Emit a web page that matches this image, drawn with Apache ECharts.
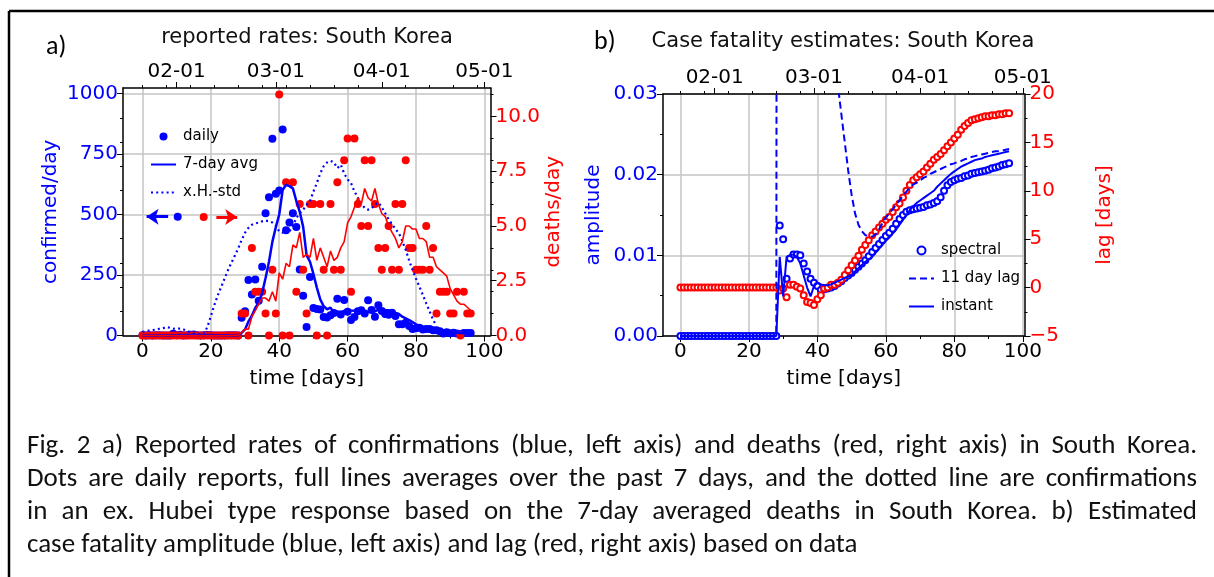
<!DOCTYPE html>
<html><head><meta charset="utf-8">
<script src="https://cdn.jsdelivr.net/npm/echarts@6/dist/echarts.min.js"></script>
<style>html,body{margin:0;padding:0;background:#fff}#c{width:1214px;height:577px}</style>
</head><body><div id="c"></div>
<script>
// ---------------- data (day index = array index, day 0 = 2020-01-22) ----------------
const confirmedDaily = [1,0,1,0,1,1,0,0,0,7, 1,3,0,1,3,4,1,0,1,2, 1,0,0,0,0,1,1,1,0,73,
  100,229,169,231,144,284,505,571,813,586, 599,851,435,467,505,448,273,164,35,242,
  114,110,107,76,74,84,93,152,87,147, 98,64,76,100,104,91,146,105,78,125,
  101,89,86,94,81,47,47,53,39,27, 30,32,25,27,27,22,22,18,8,13, 9,11,8,6,10,10,10];
const confirmed7day = [0.14,0.14,0.29,0.29,0.43,0.57,0.57,0.43,0.43,1.29, 1.43,1.71,1.57,1.71,2.14,2.71,1.86,1.71,1.43,1.71,
  1.71,1.29,0.71,0.57,0.57,0.57,0.43,0.43,0.43,10.9, 25.1,57.9,81.9,114.7,135.1,175.7,237.4,304.7,388.1,447.7,
  500.3,601.3,622.9,617.4,608.0,555.9,511.1,449.0,332.4,304.9, 254.4,198.0,149.3,121.1,108.3,115.3,94.0,99.4,96.1,101.9,
  105.0,103.6,102.4,103.4,96.6,97.1,97.0,98.0,100.0,107.0, 107.1,105.0,104.3,96.9,93.4,89.0,77.9,71.0,63.9,55.4,
  46.3,39.3,36.1,33.3,29.6,27.1,26.4,24.7,21.3,19.6, 17.0,14.7,12.7,10.4,9.3,9.6,9.1];
const xhStd = [15,18,20,22,25,28,30,35,32,28, 30,28,25,20,12,8,5,5,10,35,
  80,125,165,200,235,270,300,330,360,395, 425,445,458,463,467,472,475,472,467,455,
  430,425,440,430,455,485,506,520,540,555, 595,630,670,700,715,722,715,692,706,670,
  645,630,595,570,545,527,520,525,540,550, 530,505,480,460,440,423,390,354,310,271,
  235,202,168,133,100,65,40];
const deathsDaily = [0,0,0,0,0,0,0,0,0,0, 0,0,0,0,0,0,0,0,0,0, 0,0,0,0,0,0,0,0,0,
  1,1,0,4,2,2,2,1,0,3, 1,11,0,7,0,7,2,6,3,1, 6,6,0,6,3,0,6,3,7,3, 8,9,2,9,6,5,8,5,8,6,
  4,3,4,5,3,6,3,6,8,4, 4,3,3,3,5,3,4,1,2,2, 2,1,1,2,0,2,1,1];
const deaths7day = [0,0,0,0,0,0,0,0,0,0, 0,0,0,0,0,0,0,0,0,0, 0,0,0,0,0,0,0,0,0,
  0.14,0.29,0.29,0.86,1.14,1.43,1.71,1.71,1.57,2.0, 1.57,2.86,2.57,3.29,3.14,4.14,4.0,4.71,3.57,3.71,
  3.57,4.43,3.43,4.0,3.57,3.14,3.86,3.43,3.57,4.0, 4.29,5.14,5.43,5.86,6.29,6.0,6.71,6.29,6.14,6.71,
  6.0,5.57,5.43,5.0,4.71,4.43,4.0,4.29,5.0,5.0, 4.86,4.86,4.43,4.43,4.29,3.57,3.57,3.14,3.0,2.86,
  2.71,2.14,1.86,1.57,1.43,1.43,1.29,1.14];
const spectralAmp = [0,0,0,0,0,0,0,0,0,0, 0,0,0,0,0,0,0,0,0,0, 0,0,0,0,0,0,0,0,0,
  0.0137,0.0120,0.0071,0.0096,0.0101,0.0101,0.0100,0.0090,0.0080,0.0071,
  0.0066,0.0062,0.0057,0.0058,0.0059,0.0060,0.0062,0.0065,0.0068,0.0072,
  0.0075,0.0078,0.0082,0.0086,0.0090,0.0094,0.0099,0.0104,0.0109,0.0114,
  0.0119,0.0124,0.0128,0.0133,0.0139,0.0145,0.0150,0.0154,0.0156,0.0157,
  0.0158,0.0159,0.0160,0.0162,0.0163,0.0165,0.0167,0.0172,0.0180,0.0187,
  0.0191,0.0193,0.0195,0.0196,0.0198,0.0199,0.0201,0.0202,0.0203,0.0204,
  0.0205,0.0206,0.0208,0.0209,0.0210,0.0212,0.0213,0.0214];
const instantAmp = [0,0,0,0,0,0,0,0,0,0, 0,0,0,0,0,0,0,0,0,0, 0,0,0,0,0,0,0,0,0,
  0.0098,0.0049,0.0098,0.0100,0.0101,0.0098,0.0090,0.0075,0.0060,0.0049,
  0.0062,0.0066,0.0064,0.0063,0.0063,0.0064,0.0066,0.0068,0.0070,0.0072,
  0.0074,0.0076,0.0080,0.0084,0.0088,0.0092,0.0095,0.0098,0.0103,0.0108,
  0.0113,0.0118,0.0122,0.0127,0.0132,0.0138,0.0144,0.0150,0.0156,0.0161,
  0.0165,0.0168,0.0171,0.0174,0.0177,0.0180,0.0185,0.0189,0.0193,0.0197,
  0.0201,0.0204,0.0207,0.0210,0.0212,0.0214,0.0216,0.0218,0.0219,0.0220,
  0.0222,0.0223,0.0224,0.0225,0.0226,0.0227,0.0228,0.0229];
const lag11Amp = [0,0,0,0,0,0,0,0,0,0, 0,0,0,0,0,0,0,0,0,0, 0,0,0,0,0,0,0,0,0,
  0.5,0.3,0.2,0.15,0.12,0.1,0.08,0.07,0.06,0.055,
  0.05,0.045,0.042,0.04,0.037,0.035,0.033,0.031,0.0275,0.024,
  0.0205,0.0175,0.0152,0.0138,0.0130,0.0125,0.0124,0.0123,0.0126,0.0132,
  0.0140,0.0147,0.0152,0.0157,0.0163,0.0168,0.0174,0.0179,0.0184,0.0188,
  0.0190,0.0193,0.0196,0.0198,0.0201,0.0203,0.0205,0.0207,0.0209,0.0211,
  0.0213,0.0214,0.0216,0.0217,0.0219,0.0220,0.0222,0.0223,0.0224,0.0225,
  0.0226,0.0227,0.0228,0.0229,0.0229,0.0230,0.0231,0.0232];
const lagDays = [0,0,0,0,0,0,0,0,0,0, 0,0,0,0,0,0,0,0,0,0, 0,0,0,0,0,0,0,0,0,
  -0.3,-0.1,-1.0,0.3,0.3,0.1,-0.1,-0.8,-1.5,-1.6,
  -1.8,-1.2,-0.8,-0.1,0.0,0.3,0.3,0.5,0.8,1.3,
  1.8,2.3,2.8,3.3,3.9,4.4,4.9,5.4,5.8,6.2,
  6.6,7.0,7.3,7.8,8.3,8.7,9.3,10.0,10.6,11.1,
  11.4,11.7,12.0,12.4,12.8,13.2,13.5,13.8,14.2,14.6,
  15.0,15.4,15.8,16.3,16.7,17.0,17.3,17.4,17.5,17.6,
  17.7,17.7,17.8,17.8,17.9,17.9,18.0,18.0];

// axis ticks and labels
const dayTicks = [0, 20, 40, 60, 80, 100];
const dayMinorTicks = [10, 30, 50, 70, 90];
const dateTickDays = [10, 39, 70, 100];
const dateTickLabels = ['02-01', '03-01', '04-01', '05-01'];
const weekTickDays = [0, 7, 14, 21, 28, 35, 42, 49, 56, 63, 77, 84, 91, 98];
const confTicks = [0, 250, 500, 750, 1000];
const confMinorTicks = [100, 200, 300, 400, 600, 700, 800, 900];
const deathTicks = [0, 2.5, 5, 7.5, 10];
const deathMinorTicks = [1, 2, 3, 4, 6, 7, 8, 9, 11];
const ampTicks = [0, 0.01, 0.02, 0.03];
const ampMinorTicks = [0.005, 0.015, 0.025];
const lagTicks = [-5, 0, 5, 10, 15, 20];
const lagMinorTicks = [-2.5, 2.5, 7.5, 12.5, 17.5];

// annotation markers (left panel): dot + arrow towards the matching axis
const blueMarker = [10.3, 491];
const blueArrow = [[7.5, 491], [1.2, 491]];
const redMarker = [17.9, 5.41];
const redArrow = [[21.6, 5.41], [27.7, 5.41]];

const captionLines = [
  'Fig. 2 a) Reported rates of confirmations (blue, left axis) and deaths (red, right axis) in South Korea.',
  'Dots are daily reports, full lines averages over the past 7 days, and the dotted line are confirmations',
  'in an ex. Hubei type response based on the 7-day averaged deaths in South Korea. b) Estimated',
  'case fatality amplitude (blue, left axis) and lag (red, right axis) based on data'
];

// ---------------- styling / layout ----------------
const BLUE = '#0000ff', RED = '#ff0000', GRIDC = '#c4c4c4', INK = '#000';
const FONT = 'DejaVu Sans';
const XA = [-5.7, 101.8], XB = [-5.1, 100.5];
const CONF = [0, 1023], DEATH = [0, 11.3], AMP = [0, 0.03], LAG = [-5, 20];
const pairs = arr => arr.map((v, i) => [i, v]);
const spine = {show: true, onZero: false, lineStyle: {color: INK, width: 1.5}};
const lbl = (color, extra) => Object.assign({color: color, fontFamily: FONT, fontSize: 20}, extra || {});
const near = (arr, v) => arr.findIndex(a => Math.abs(a - v) < 1e-9);

function mainX(grid, range, pos, ticks, labelFmt, withGrid, name) {
  const ax = {gridIndex: grid, type: 'value', position: pos, min: range[0], max: range[1],
    axisLine: spine,
    axisTick: {show: true, customValues: ticks, length: 6, lineStyle: {color: INK, width: 1}},
    axisLabel: lbl(INK, {show: true, customValues: ticks, margin: 6, formatter: labelFmt}),
    splitLine: {show: withGrid, lineStyle: {color: GRIDC, width: 1.5}}};
  if (name) { ax.name = name; ax.nameLocation = 'middle'; ax.nameGap = 33;
    ax.nameTextStyle = {color: INK, fontFamily: FONT, fontSize: 20}; }
  return ax;
}
function minorX(grid, range, pos, ticks) {
  return {gridIndex: grid, type: 'value', position: pos, min: range[0], max: range[1],
    axisLine: {show: false, onZero: false}, axisLabel: {show: false}, splitLine: {show: false},
    axisTick: {show: true, customValues: ticks, length: 3, lineStyle: {color: INK, width: 1}}};
}
function mainY(grid, range, pos, ticks, color, fmt, withGrid, name, gap) {
  return {gridIndex: grid, type: 'value', position: pos, min: range[0], max: range[1],
    axisLine: spine,
    axisTick: {show: true, customValues: ticks, length: 6, lineStyle: {color: INK, width: 1}},
    axisLabel: lbl(color, {show: true, customValues: ticks, margin: 5, formatter: fmt}),
    splitLine: {show: withGrid, lineStyle: {color: GRIDC, width: 1.5}},
    name: name, nameLocation: 'middle', nameRotate: 90, nameGap: gap,
    nameTextStyle: {color: color, fontFamily: FONT, fontSize: 20}};
}
function minorY(grid, range, pos, ticks) {
  return {gridIndex: grid, type: 'value', position: pos, min: range[0], max: range[1],
    axisLine: {show: false, onZero: false}, axisLabel: {show: false}, splitLine: {show: false},
    axisTick: {show: true, customValues: ticks, length: 3, lineStyle: {color: INK, width: 1}}};
}
const dayFmt = v => String(Math.round(v));
const dateFmt = v => { const k = near(dateTickDays, v); return k >= 0 ? dateTickLabels[k] : ''; };
const lagFmt = v => v < 0 ? '\u2212' + Math.abs(v) : String(v);

// caption layout: justified lines (last line left-aligned)
const CAPFONT = 'Carlito, Lato, sans-serif';
const mctx = document.createElement('canvas').getContext('2d');
const measure = (t, s) => { mctx.font = s + 'px ' + CAPFONT; return mctx.measureText(t).width; };
const capSize = 0.94 * 22 * 1158 / measure(captionLines[1], 22);
const capX = 27, capRight = 1197, capY0 = 446, capDY = 33;
const capFont = capSize + 'px ' + CAPFONT;
const captionGraphics = [];
captionLines.forEach((line, li) => {
  const y = capY0 + li * capDY;
  if (li === captionLines.length - 1) {
    captionGraphics.push({type: 'text', x: capX, y: y,
      style: {text: line, font: capFont, fill: '#111', align: 'left', verticalAlign: 'middle'}});
    return;
  }
  const words = line.split(' ');
  const ws = words.map(w => measure(w, capSize));
  const total = ws.reduce((a, b) => a + b, 0);
  const gap = (capRight - capX - total) / (words.length - 1);
  let x = capX;
  words.forEach((w, wi) => {
    captionGraphics.push({type: 'text', x: x, y: y,
      style: {text: w, font: capFont, fill: '#111', align: 'left', verticalAlign: 'middle'}});
    x += ws[wi] + gap;
  });
});

const hideSym = name => ({name: name, itemStyle: {opacity: 0}});
const legendText = {fontFamily: FONT, fontSize: 15, color: INK, padding: [0, 0, 0, 2]};

const option = {
  animation: false,
  backgroundColor: '#fff',
  grid: [
    {left: 123, top: 88, width: 367.5, height: 247.5, containLabel: false},
    {left: 663, top: 94, width: 361.5, height: 242, containLabel: false}
  ],
  xAxis: [
    mainX(0, XA, 'bottom', dayTicks, dayFmt, true, 'time [days]'),
    minorX(0, XA, 'bottom', dayMinorTicks),
    mainX(0, XA, 'top', dateTickDays, dateFmt, false),
    minorX(0, XA, 'top', weekTickDays),
    mainX(1, XB, 'bottom', dayTicks, dayFmt, true, 'time [days]'),
    minorX(1, XB, 'bottom', dayMinorTicks),
    mainX(1, XB, 'top', dateTickDays, dateFmt, false),
    minorX(1, XB, 'top', weekTickDays)
  ],
  yAxis: [
    mainY(0, CONF, 'left', confTicks, BLUE, v => String(Math.round(v)), true, 'confirmed/day', 62),
    minorY(0, CONF, 'left', confMinorTicks),
    mainY(0, DEATH, 'right', deathTicks, RED, v => v.toFixed(1), false, 'deaths/day', 27),
    minorY(0, DEATH, 'right', deathMinorTicks),
    mainY(1, AMP, 'left', ampTicks, BLUE, v => v.toFixed(2), true, 'amplitude', 59),
    minorY(1, AMP, 'left', ampMinorTicks),
    mainY(1, LAG, 'right', lagTicks, RED, lagFmt, false, 'lag [days]', 70),
    minorY(1, LAG, 'right', lagMinorTicks)
  ],
  legend: [
    {orient: 'vertical', left: 145, top: 124, itemWidth: 25, itemHeight: 8, itemGap: 13,
     data: ['daily', hideSym('7-day avg'), hideSym('x.H.-std')], textStyle: legendText},
    {orient: 'vertical', left: 903, top: 238, itemWidth: 25, itemHeight: 8, itemGap: 13,
     data: ['spectral', hideSym('11 day lag'), hideSym('instant')], textStyle: legendText}
  ],
  series: [
    {name: 'x.H.-std', type: 'line', xAxisIndex: 0, yAxisIndex: 0, data: pairs(xhStd), showSymbol: false, symbol: 'none',
     lineStyle: {color: BLUE, width: 2.2, type: [2, 3.2]}, itemStyle: {color: BLUE}},
    {name: 'daily', type: 'scatter', xAxisIndex: 0, yAxisIndex: 0, data: pairs(confirmedDaily), symbol: 'circle', symbolSize: 8,
     itemStyle: {color: BLUE, opacity: 1}},
    {name: '7-day avg', type: 'line', xAxisIndex: 0, yAxisIndex: 0, data: pairs(confirmed7day), showSymbol: false, symbol: 'none',
     lineStyle: {color: BLUE, width: 2.5}, itemStyle: {color: BLUE}},
    {name: 'deaths daily', type: 'scatter', xAxisIndex: 0, yAxisIndex: 2, data: pairs(deathsDaily), symbol: 'circle', symbolSize: 8,
     itemStyle: {color: RED, opacity: 1}},
    {name: 'deaths 7-day', type: 'line', xAxisIndex: 0, yAxisIndex: 2, data: pairs(deaths7day), showSymbol: false, symbol: 'none',
     lineStyle: {color: RED, width: 1.6}, itemStyle: {color: RED}},
    {name: 'blue marker', type: 'scatter', xAxisIndex: 0, yAxisIndex: 0, data: [blueMarker], symbolSize: 8, itemStyle: {color: BLUE, opacity: 1},
     markLine: {silent: true, symbol: ['none', 'arrow'], symbolSize: 12, label: {show: false},
       lineStyle: {color: BLUE, width: 3, type: 'solid'},
       data: [[{coord: blueArrow[0]}, {coord: blueArrow[1]}]]}},
    {name: 'red marker', type: 'scatter', xAxisIndex: 0, yAxisIndex: 2, data: [redMarker], symbolSize: 8, itemStyle: {color: RED, opacity: 1},
     markLine: {silent: true, symbol: ['none', 'arrow'], symbolSize: 12, label: {show: false},
       lineStyle: {color: RED, width: 3, type: 'solid'},
       data: [[{coord: redArrow[0]}, {coord: redArrow[1]}]]}},

    {name: '11 day lag', type: 'line', xAxisIndex: 4, yAxisIndex: 4, data: pairs(lag11Amp), showSymbol: false, symbol: 'none',
     lineStyle: {color: BLUE, width: 2, type: [7, 4]}, itemStyle: {color: BLUE}},
    {name: 'instant', type: 'line', xAxisIndex: 4, yAxisIndex: 4, data: pairs(instantAmp), showSymbol: false, symbol: 'none',
     lineStyle: {color: BLUE, width: 2}, itemStyle: {color: BLUE}},
    {name: 'spectral', type: 'scatter', xAxisIndex: 4, yAxisIndex: 4, data: pairs(spectralAmp), symbol: 'emptyCircle', symbolSize: 6,
     itemStyle: {color: BLUE, borderColor: BLUE, borderWidth: 1, opacity: 1}},
    {name: 'lag', type: 'scatter', xAxisIndex: 4, yAxisIndex: 6, data: pairs(lagDays), symbol: 'emptyCircle', symbolSize: 6,
     itemStyle: {color: RED, borderColor: RED, borderWidth: 1, opacity: 1}}
  ],
  graphic: [
    {type: 'line', shape: {x1: 9, y1: 11, x2: 1214, y2: 11}, style: {stroke: '#000', lineWidth: 2.5}},
    {type: 'line', shape: {x1: 9, y1: 11, x2: 9, y2: 577}, style: {stroke: '#000', lineWidth: 2.5}},
    {type: 'text', x: 46, y: 47, style: {text: 'a)', font: '26px ' + CAPFONT, fill: '#000', align: 'left', verticalAlign: 'middle'}},
    {type: 'text', x: 594, y: 42, style: {text: 'b)', font: '26px ' + CAPFONT, fill: '#000', align: 'left', verticalAlign: 'middle'}},
    {type: 'text', x: 307, y: 38, style: {text: 'reported rates: South Korea', font: '21px ' + FONT, fill: '#111', align: 'center', verticalAlign: 'middle'}},
    {type: 'text', x: 843, y: 42, style: {text: 'Case fatality estimates: South Korea', font: '21px ' + FONT, fill: '#111', align: 'center', verticalAlign: 'middle'}}
  ].concat(captionGraphics)
};
const chart = echarts.init(document.getElementById('c'), null, {renderer: 'canvas', width: 1214, height: 577});
chart.setOption(option);
</script>
</body></html>
